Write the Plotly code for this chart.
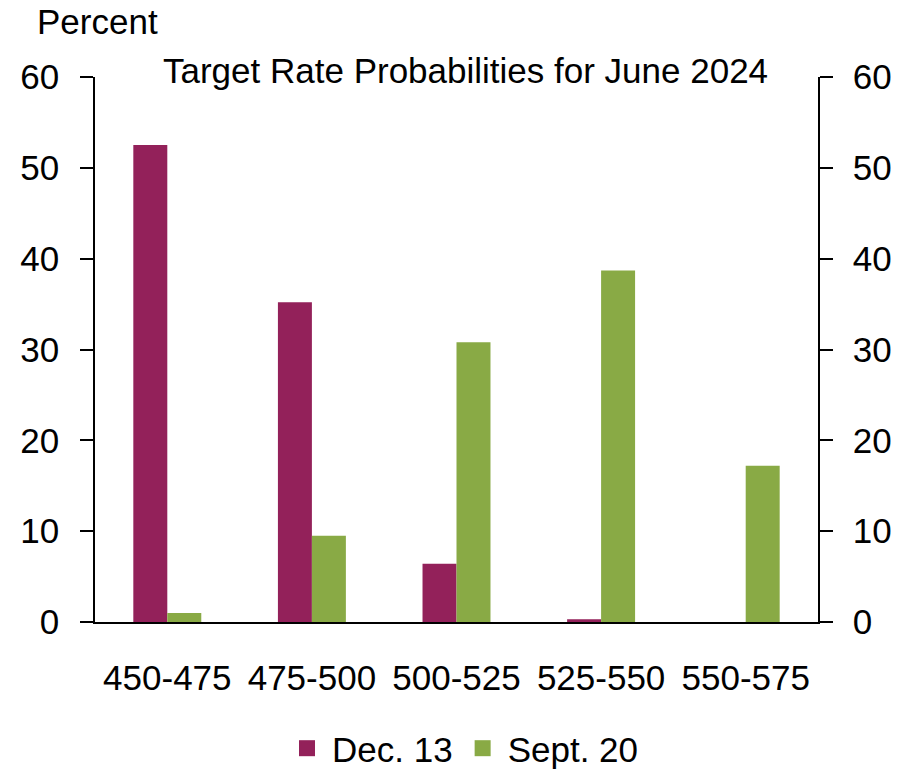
import plotly.graph_objects as go

# Target rate ranges (basis points) for the June 2024 meeting
rate_ranges = ["450-475", "475-500", "500-525", "525-550", "550-575"]

# Market-implied probabilities, percent
dec13 = [52.5, 35.2, 6.4, 0.3, 0.0]
sept20 = [1.0, 9.5, 30.8, 38.7, 17.2]

y_ticks = [0, 10, 20, 30, 40, 50, 60]

FONT = "Liberation Sans, Arial, sans-serif"
SIZE = 35
MAROON = "#93215A"
GREEN = "#89AA45"

fig = go.Figure()
# Left-axis series and right-axis series share the category axis;
# offsetgroups keep them side by side.
fig.add_trace(go.Bar(name="Dec. 13", x=rate_ranges, y=dec13,
                     offsetgroup="a", yaxis="y", showlegend=False,
                     marker=dict(color=MAROON, line=dict(width=0))))
fig.add_trace(go.Bar(name="Sept. 20", x=rate_ranges, y=sept20,
                     offsetgroup="b", yaxis="y2", showlegend=False,
                     marker=dict(color=GREEN, line=dict(width=0))))

# Legend entries with larger square swatches
for name, color in [("Dec. 13", MAROON), ("Sept. 20", GREEN)]:
    fig.add_trace(go.Scatter(name=name, x=[None], y=[None], mode="markers",
                             marker=dict(symbol="square", size=16, color=color),
                             showlegend=True))

axis_common = dict(
    range=[0, 60], tickvals=y_ticks, ticks="outside", ticklen=13,
    tickwidth=1.5, tickcolor="black", showline=True, linecolor="black",
    linewidth=1.5, showgrid=False, zeroline=False,
    tickfont=dict(family=FONT, size=SIZE, color="black"),
)

fig.update_layout(
    width=900, height=770,
    margin=dict(l=95, r=82, t=77, b=148, autoexpand=False),
    paper_bgcolor="white", plot_bgcolor="white",
    barmode="group", bargap=0.53, bargroupgap=0,
    font=dict(family=FONT, size=SIZE, color="black"),
    xaxis=dict(showline=True, linecolor="black", linewidth=1.5,
               ticks="", showgrid=False, ticklabelstandoff=24, tickangle=0,
               tickfont=dict(family=FONT, size=SIZE, color="black")),
    yaxis=dict(side="left", ticklabelstandoff=14, **axis_common),
    yaxis2=dict(side="right", overlaying="y", ticklabelstandoff=13,
                **axis_common),
    legend=dict(orientation="h", x=0.509, xanchor="center",
                yref="container", y=0.028, yanchor="middle",
                font=dict(family=FONT, size=SIZE, color="black"),
                itemsizing="trace", itemwidth=40, tracegroupgap=0,
                bgcolor="rgba(0,0,0,0)"),
    showlegend=True,
    annotations=[
        dict(text="Target Rate Probabilities for June 2024",
             xref="paper", yref="paper", x=0.512, y=1.012,
             xanchor="center", yanchor="middle", showarrow=False,
             font=dict(family=FONT, size=SIZE, color="black")),
        dict(text="Percent", xref="paper", yref="paper",
             x=-0.083, y=1.101, xanchor="left", yanchor="middle",
             showarrow=False,
             font=dict(family=FONT, size=SIZE, color="black")),
    ],
)

fig.write_html("out.html")
